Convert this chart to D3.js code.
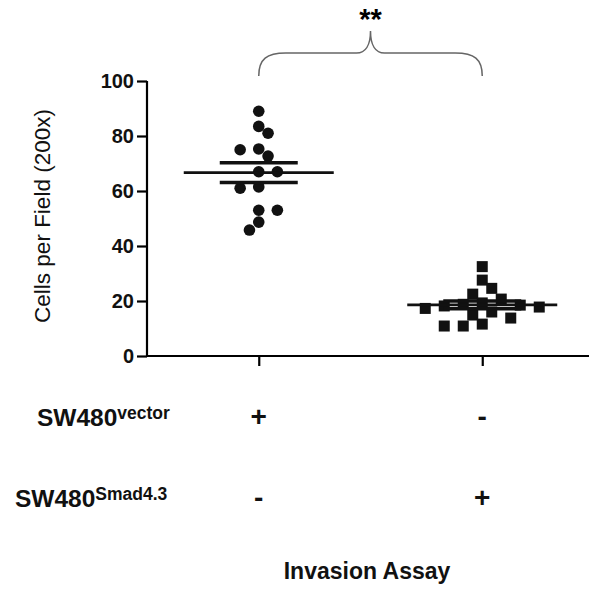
<!DOCTYPE html>
<html lang="en">
<head>
<meta charset="utf-8">
<title>Invasion Assay</title>
<script src="https://cdn.jsdelivr.net/npm/d3@7"></script>
<style>
    body { margin: 0; background: #fff; }
    svg { display: block; font-family: "Liberation Sans", Arial, Helvetica, sans-serif; }
</style>
</head>
<body>
<script>
// values
var groups = ["vector", "smad"];
var vectorCells = [89, 83.5, 81, 75.3, 75, 72.7, 67, 67, 61.5, 61, 53, 53, 48.7, 45.8];
var smadCells = [32.5, 27.6, 24.6, 22.5, 20.7, 19.3, 18.8, 18.5, 18.2, 17.8, 17.3, 16.0, 14.9, 13.8, 11.6, 10.9, 10.9];
var yTicks = [0, 20, 40, 60, 80, 100];
var rowNames = ["SW480", "SW480"];
var rowSups = ["vector", "Smad4.3"];
var rowSigns = [["+", "-"], ["-", "+"]];
var yTitle = "Cells per Field (200x)";
var xTitle = "Invasion Assay";
var sigLabel = "**";

var w = 589, h = 592;

var svg = d3.select("body").append("svg")
    .attr("width", w)
    .attr("height", h);

var x = d3.scalePoint()
    .domain(groups)
    .range([147, 594])
    .padding(0.5);

var y = d3.scaleLinear()
    .domain([0, 100])
    .range([356, 81]);

// simple dodge so equal values sit side by side, like a column scatter
function dodge(values, cx, step, minDist) {
    var placed = [];
    var balance = 0;
    var slots = [0];
    for (var k = 1; k <= 8; k++) slots.push(-k * step, k * step);
    return values.map(function (v) {
        var py = y(v);
        var free = slots.filter(function (s) {
            return placed.every(function (p) {
                return Math.hypot(p[0] - (cx + s), p[1] - py) >= minDist;
            });
        });
        free.sort(function (a, b) {
            var d = Math.abs(a) - Math.abs(b);
            if (d !== 0) return d;
            // go to the lighter side
            return balance > 0 ? a - b : b - a;
        });
        var s = free[0];
        balance += s;
        placed.push([cx + s, py]);
        return { value: v, x: cx + s, y: py };
    });
}

var vecPts = dodge(vectorCells, x("vector"), 9.3, 11);
var smadPts = dodge(smadCells, x("smad"), 9.5, 12.5);

// axes
var yAxis = d3.axisLeft(y).tickValues(yTicks).tickSize(10).tickPadding(3);
var gy = svg.append("g")
    .attr("transform", "translate(147,0)")
    .call(yAxis);
gy.select(".domain").attr("stroke-width", 2.2).attr("d", "M0,81V356");
gy.selectAll(".tick line").attr("stroke-width", 2.2);
gy.selectAll(".tick text")
    .attr("font-size", 20)
    .attr("font-weight", "bold")
    .attr("font-family", "Liberation Sans, Arial, sans-serif")
    .attr("fill", "#111");

var xAxis = d3.axisBottom(x).tickSize(10).tickFormat("");
var gx = svg.append("g")
    .attr("transform", "translate(0,356)")
    .call(xAxis);
gx.select(".domain").attr("stroke-width", 2.2).attr("d", "M146,0H594");
gx.selectAll(".tick line").attr("stroke-width", 2.2);

// points
svg.append("g").selectAll("circle")
    .data(vecPts)
    .enter().append("circle")
    .attr("cx", function (d) { return d.x; })
    .attr("cy", function (d) { return d.y; })
    .attr("r", 5.8)
    .attr("fill", "#111");

var sq = 11;
svg.append("g").selectAll("rect")
    .data(smadPts)
    .enter().append("rect")
    .attr("x", function (d) { return d.x - sq / 2; })
    .attr("y", function (d) { return d.y - sq / 2; })
    .attr("width", sq)
    .attr("height", sq)
    .attr("fill", "#111");

// mean and SEM lines
var stats = [
    { g: "vector", v: vectorCells },
    { g: "smad", v: smadCells }
].map(function (s) {
    var m = d3.mean(s.v);
    var sem = d3.deviation(s.v) / Math.sqrt(s.v.length);
    return { g: s.g, mean: m, lo: m - sem, hi: m + sem };
});

var lines = svg.append("g").attr("stroke", "#111");
stats.forEach(function (s) {
    var cx = x(s.g);
    lines.append("line")
        .attr("x1", cx - 75).attr("x2", cx + 75)
        .attr("y1", y(s.mean)).attr("y2", y(s.mean))
        .attr("stroke-width", 2.6);
    [s.lo, s.hi].forEach(function (v) {
        lines.append("line")
            .attr("x1", cx - 39).attr("x2", cx + 39)
            .attr("y1", y(v)).attr("y2", y(v))
            .attr("stroke-width", 3.4);
    });
});

// significance brace
var x1 = x("vector"), x2 = x("smad"), mid = (x1 + x2) / 2;
var bBot = 76, bBar = 53, bTop = 31;
var brace = "M" + x1 + "," + bBot +
    "C" + x1 + "," + (bBar + 6) + " " + (x1 + 8) + "," + bBar + " " + (x1 + 27) + "," + bBar +
    "L" + (mid - 14) + "," + bBar +
    "C" + (mid - 5) + "," + bBar + " " + mid + "," + (bBar - 8) + " " + mid + "," + bTop +
    "C" + mid + "," + (bBar - 8) + " " + (mid + 5) + "," + bBar + " " + (mid + 14) + "," + bBar +
    "L" + (x2 - 27) + "," + bBar +
    "C" + (x2 - 8) + "," + bBar + " " + x2 + "," + (bBar + 6) + " " + x2 + "," + bBot;
svg.append("path")
    .attr("d", brace)
    .attr("fill", "none")
    .attr("stroke", "#666")
    .attr("stroke-width", 1.5);

svg.append("text")
    .attr("x", mid)
    .attr("y", 29)
    .attr("text-anchor", "middle")
    .attr("font-size", 29)
    .attr("font-weight", "bold")
    .text(sigLabel);

// y title
svg.append("text")
    .attr("transform", "translate(50,216) rotate(-90)")
    .attr("text-anchor", "middle")
    .attr("font-size", 22.5)
    .attr("fill", "#111")
    .text(yTitle);

// treatment rows
var rowBase = [426, 507];
var rowStart = [37, 15];
rowNames.forEach(function (name, i) {
    var t = svg.append("text")
        .attr("x", rowStart[i])
        .attr("y", rowBase[i])
        .attr("font-weight", "bold")
        .attr("fill", "#111");
    t.append("tspan").attr("font-size", 24.5).text(name);
    t.append("tspan").attr("font-size", 17.5).attr("dy", -7).text(rowSups[i]);

    groups.forEach(function (g, j) {
        svg.append("text")
            .attr("x", x(g))
            .attr("y", rowBase[i])
            .attr("text-anchor", "middle")
            .attr("font-size", 28)
            .attr("font-weight", "bold")
            .attr("fill", "#111")
            .text(rowSigns[i][j]);
    });
});

svg.append("text")
    .attr("x", 367)
    .attr("y", 579)
    .attr("text-anchor", "middle")
    .attr("font-size", 23)
    .attr("font-weight", "bold")
    .attr("fill", "#111")
    .text(xTitle);
</script>
</body>
</html>
